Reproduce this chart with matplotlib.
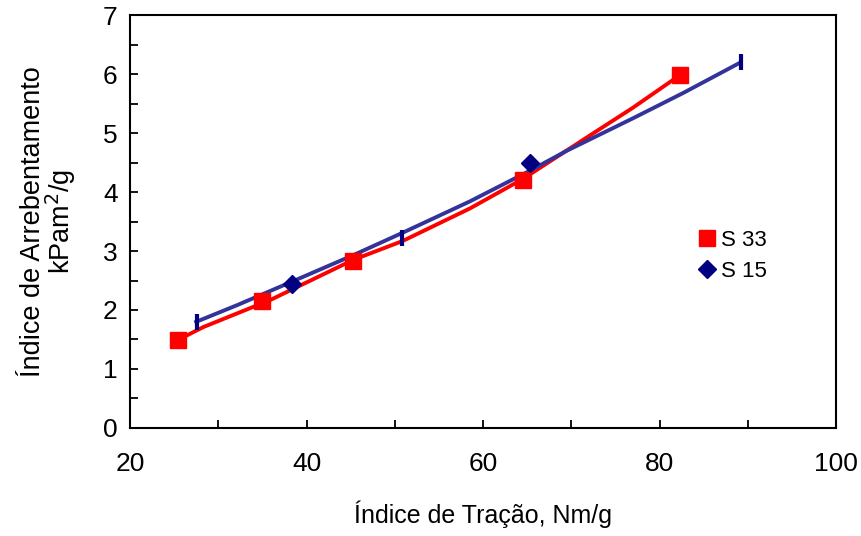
import numpy as np
import matplotlib
matplotlib.use('Agg')
from matplotlib import pyplot as plt
from matplotlib.ticker import MultipleLocator, FuncFormatter

# pontos medidos
s33_x = [25.4, 35.0, 45.3, 64.5, 82.3]
s33_y = [1.49, 2.15, 2.83, 4.20, 5.98]
s15_x = [27.6, 38.4, 50.8, 65.3, 89.2]
s15_y = [1.80, 2.44, 3.22, 4.49, 6.20]

# curvas de tendencia
s33_fit_x = [25.4, 28.3, 35.9, 45.3, 50.9, 58.5, 64.5, 71.3, 77.0, 82.3]
s33_fit_y = [1.49, 1.71, 2.17, 2.85, 3.17, 3.72, 4.22, 4.88, 5.43, 5.98]
s15_fit_x = [27.5, 32.1, 38.5, 45.3, 50.9, 58.5, 65.3, 69.5, 77.0, 82.7, 89.1]
s15_fit_y = [1.80, 2.08, 2.49, 2.93, 3.31, 3.84, 4.36, 4.70, 5.25, 5.68, 6.19]

plt.rcParams['font.family'] = ['Liberation Sans', 'DejaVu Sans']

fig = plt.figure(figsize=(8.61, 5.36), dpi=100)
ax = fig.add_axes([0.151, 0.2015, 0.82, 0.7705])

ax.plot(s33_fit_x, s33_fit_y, color='#ff0000', lw=2.8, zorder=2)
ax.plot(s15_fit_x, s15_fit_y, color='#333399', lw=2.8, zorder=2)

ax.plot(s33_x, s33_y, ls='none', marker='s', ms=11, color='#ff0000', zorder=3, label='S 33')
ax.plot(s15_x[1::2], s15_y[1::2], ls='none', marker='D', ms=9, color='#000080', zorder=3, label='S 15')
ax.plot(s15_x[0::2], s15_y[0::2], ls='none', marker='|', ms=11, mew=3, color='#000080', zorder=3)

ax.set_xlim(20, 100)
ax.set_ylim(0, 7)
ax.xaxis.set_major_locator(MultipleLocator(10))
ax.xaxis.set_major_formatter(FuncFormatter(lambda v, p: '%d' % v if int(round(v)) % 20 == 0 else ''))
ax.yaxis.set_major_locator(MultipleLocator(1))
ax.yaxis.set_minor_locator(MultipleLocator(0.5))
ax.tick_params(axis='both', which='both', direction='in', length=6, width=1.3, labelsize=19)
ax.tick_params(axis='x', pad=17)
ax.tick_params(axis='y', pad=9)
for sp in ax.spines.values():
    sp.set_linewidth(1.5)

ax.set_xlabel('Índice de Tração, Nm/g', fontsize=18, labelpad=18)
ax.set_ylabel('Índice de Arrebentamento\nkPam$^2$/g', fontsize=19.5, labelpad=18, linespacing=0.9)

ax.legend(loc='upper left', bbox_to_anchor=(0.77, 0.528), frameon=False, fontsize=16,
          handletextpad=0.05, handlelength=1.2, labelspacing=0.45)

fig.savefig('out.png', dpi=100)
